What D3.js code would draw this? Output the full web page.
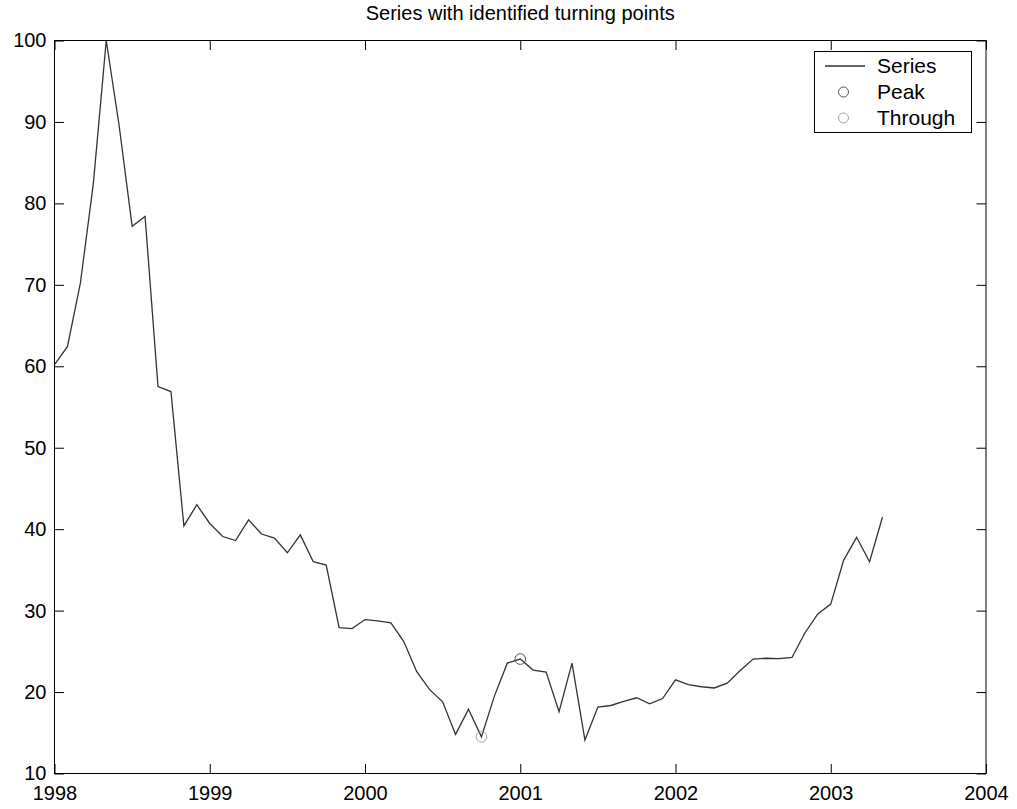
<!DOCTYPE html>
<html>
<head>
<meta charset="utf-8">
<script src="https://cdn.jsdelivr.net/npm/d3@7"></script>
<style>
  html, body { margin: 0; padding: 0; background: #fff; }
  svg { display: block; font-family: "Liberation Sans", Arial, sans-serif; }
</style>
</head>
<body>
<svg id="chart" width="1017" height="809"></svg>
<script>
// Monthly series, January 1998 through May 2003
const startYear = 1998;
const seriesValues = [
  60.2, 62.4, 70.2, 82.4, 100, 89.5, 77.2, 78.4, 57.5, 56.9, 40.4, 43.0,
  40.7, 39.1, 38.6, 41.15, 39.4, 38.9, 37.1, 39.3, 36.0, 35.6, 27.9, 27.8,
  28.9, 28.75, 28.5, 26.2, 22.5, 20.3, 18.8, 14.8, 17.9, 14.5, 19.5, 23.55,
  24.05, 22.7, 22.45, 17.6, 23.55, 14.1, 18.15, 18.35, 18.85, 19.3, 18.55, 19.2,
  21.5, 20.9, 20.65, 20.5, 21.1, 22.65, 24.05, 24.15, 24.1, 24.25, 27.25, 29.6,
  30.8, 36.2, 39.0, 36.0, 41.5
];
// Turning points, as month offsets into the series
const peakMonths = [36];
const troughMonths = [33];

const xTicks = [1998, 1999, 2000, 2001, 2002, 2003, 2004];
const yTicks = [10, 20, 30, 40, 50, 60, 70, 80, 90, 100];
const legendLabels = ["Series", "Peak", "Through"];
const titleText = "Series with identified turning points";

const series = seriesValues.map((v, i) => ({ t: startYear + i / 12, v }));
const peaks = peakMonths.map(i => series[i]);
const troughs = troughMonths.map(i => series[i]);

const frame = { left: 54.5, right: 986, top: 40.5, bottom: 773.5 };
const svg = d3.select("#chart");

const x = d3.scaleLinear().domain([1998, 2004]).range([frame.left, frame.right]);
const y = d3.scaleLinear().domain([10, 100]).range([frame.bottom, frame.top]);

const lineColor = "#333333";
const peakColor = "#555555";
const troughColor = "#a0a0a0";
const tickLen = 9.5;
const fontSize = 20;
const fontFamily = "Liberation Sans, Arial, sans-serif";

// Axes box with inward ticks on all four sides
const axisG = svg.append("g");
axisG.append("rect")
  .attr("x", frame.left).attr("y", frame.top)
  .attr("width", frame.right - frame.left).attr("height", frame.bottom - frame.top)
  .attr("fill", "none").attr("stroke", "#000").attr("stroke-width", 1);

const xAxisBottom = d3.axisBottom(x).tickValues(xTicks).tickSizeInner(-tickLen).tickSizeOuter(0)
  .tickFormat(d3.format("d")).tickPadding(12);
const gxb = axisG.append("g").attr("transform", `translate(0,${frame.bottom})`).call(xAxisBottom);
gxb.select(".domain").remove();
gxb.selectAll("text").attr("font-size", fontSize).attr("font-family", fontFamily).attr("fill", "#000");
gxb.selectAll("line").attr("stroke", "#000");

const xAxisTop = d3.axisTop(x).tickValues(xTicks).tickSizeInner(-tickLen).tickSizeOuter(0).tickFormat("");
const gxt = axisG.append("g").attr("transform", `translate(0,${frame.top})`).call(xAxisTop);
gxt.select(".domain").remove();
gxt.selectAll("line").attr("stroke", "#000");

const yAxisLeft = d3.axisLeft(y).tickValues(yTicks).tickSizeInner(-tickLen).tickSizeOuter(0)
  .tickFormat(d3.format("d")).tickPadding(8);
const gyl = axisG.append("g").attr("transform", `translate(${frame.left},0)`).call(yAxisLeft);
gyl.select(".domain").remove();
gyl.selectAll("text").attr("font-size", fontSize).attr("font-family", fontFamily).attr("fill", "#000");
gyl.selectAll("line").attr("stroke", "#000");

const yAxisRight = d3.axisRight(y).tickValues(yTicks).tickSizeInner(-tickLen).tickSizeOuter(0).tickFormat("");
const gyr = axisG.append("g").attr("transform", `translate(${frame.right},0)`).call(yAxisRight);
gyr.select(".domain").remove();
gyr.selectAll("line").attr("stroke", "#000");

// Series line
const line = d3.line().x(d => x(d.t)).y(d => y(d.v));
svg.append("path")
  .datum(series)
  .attr("d", line)
  .attr("fill", "none")
  .attr("stroke", lineColor)
  .attr("stroke-width", 1.3)
  .attr("stroke-linejoin", "miter");

// Turning point markers
svg.append("g").selectAll("circle.peak").data(peaks).join("circle")
  .attr("class", "peak")
  .attr("cx", d => x(d.t)).attr("cy", d => y(d.v)).attr("r", 5.3)
  .attr("fill", "none").attr("stroke", peakColor).attr("stroke-width", 1);
svg.append("g").selectAll("circle.trough").data(troughs).join("circle")
  .attr("class", "trough")
  .attr("cx", d => x(d.t)).attr("cy", d => y(d.v)).attr("r", 5.3)
  .attr("fill", "none").attr("stroke", troughColor).attr("stroke-width", 1);

// Title
svg.append("text")
  .attr("x", (frame.left + frame.right) / 2).attr("y", 20)
  .attr("text-anchor", "middle")
  .attr("font-size", 20)
  .attr("fill", "#000")
  .text(titleText);

// Legend
const legend = svg.append("g");
legend.append("rect")
  .attr("x", 814.5).attr("y", 51.5).attr("width", 157).attr("height", 81)
  .attr("fill", "#fff").attr("stroke", "#000").attr("stroke-width", 1);
const rowY = [66, 92, 118];
legend.append("line")
  .attr("x1", 825).attr("x2", 865).attr("y1", rowY[0]).attr("y2", rowY[0])
  .attr("stroke", lineColor).attr("stroke-width", 1.3);
legend.append("circle").attr("cx", 843.5).attr("cy", rowY[1]).attr("r", 5)
  .attr("fill", "none").attr("stroke", peakColor);
legend.append("circle").attr("cx", 843.5).attr("cy", rowY[2]).attr("r", 5)
  .attr("fill", "none").attr("stroke", troughColor);
legend.selectAll("text").data(legendLabels).join("text")
  .attr("x", 877).attr("y", (d, i) => rowY[i])
  .attr("dy", "0.35em")
  .attr("font-size", 21)
  .attr("fill", "#000")
  .text(d => d);
</script>
</body>
</html>
